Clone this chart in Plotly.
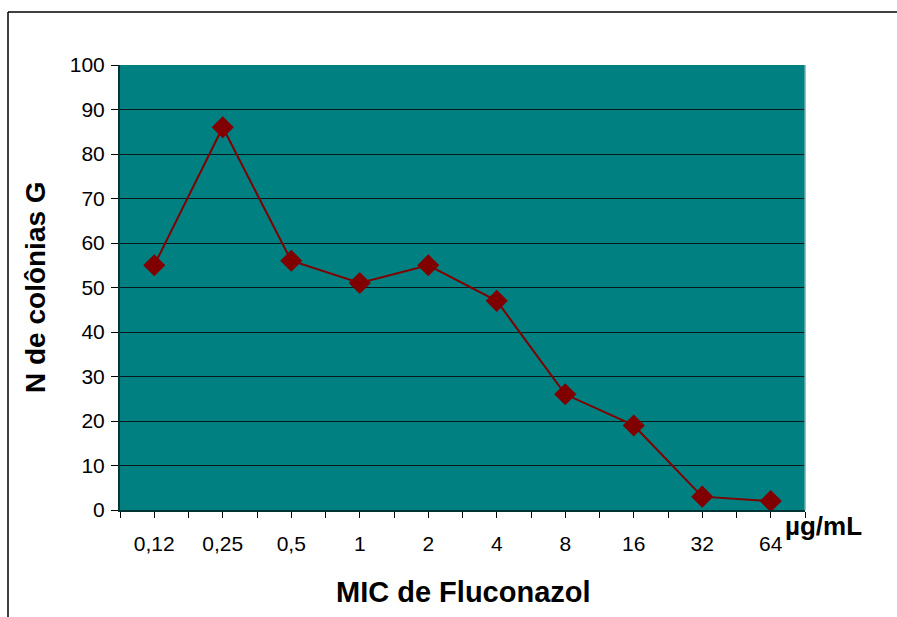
import plotly.graph_objects as go

categories = ["0,12", "0,25", "0,5", "1", "2", "4", "8", "16", "32", "64"]
values = [55, 86, 56, 51, 55, 47, 26, 19, 3, 2]
y_ticks = list(range(0, 101, 10))

x_idx = list(range(len(categories)))

# ticks at category centers and boundaries
tickvals = []
ticktext = []
for i, c in enumerate(categories):
    tickvals.append(i - 0.5)
    ticktext.append("")
    tickvals.append(i)
    ticktext.append(c)
tickvals.append(len(categories) - 0.5)
ticktext.append("")

W, H = 897, 617
L, R, T, B = 120, 92, 65, 107
pw, ph = W - L - R, H - T - B

def px_to_paper_x(px):
    return (px - L) / pw

def px_to_paper_y(py):
    return (H - B - py) / ph

fig = go.Figure()
fig.add_trace(go.Scatter(
    x=x_idx, y=values, mode="lines+markers",
    line=dict(color="#800000", width=2),
    marker=dict(symbol="diamond", size=17, color="#800000"),
    showlegend=False, hoverinfo="skip",
))

fig.update_layout(
    width=W, height=H,
    margin=dict(l=L, r=R, t=T, b=B),
    paper_bgcolor="white",
    plot_bgcolor="#008080",
    font=dict(family="Liberation Sans, Arial, sans-serif", size=21, color="black"),
    xaxis=dict(
        range=[-0.5, len(categories) - 0.5],
        tickmode="array", tickvals=tickvals, ticktext=ticktext,
        ticks="outside", ticklen=6, tickcolor="black", tickwidth=1,
        showgrid=False, zeroline=False,
        showline=True, linecolor="#003333", linewidth=2,
        tickfont=dict(size=21), ticklabelstandoff=8,
    ),
    yaxis=dict(
        range=[0, 100],
        tickmode="array", tickvals=y_ticks,
        ticks="outside", ticklen=7, tickcolor="black", tickwidth=1,
        showgrid=True, gridcolor="#0a1a1a", gridwidth=1,
        zeroline=False,
        showline=True, linecolor="#003333", linewidth=2,
        tickfont=dict(size=21), ticklabelstandoff=2,
    ),
    shapes=[
        # outer frame (top and left)
        dict(type="line", xref="paper", yref="paper",
             x0=px_to_paper_x(8), x1=px_to_paper_x(W + 5),
             y0=px_to_paper_y(12), y1=px_to_paper_y(12),
             line=dict(color="black", width=1.5)),
        dict(type="line", xref="paper", yref="paper",
             x0=px_to_paper_x(8), x1=px_to_paper_x(8),
             y0=px_to_paper_y(12), y1=px_to_paper_y(H + 5),
             line=dict(color="black", width=1.5)),
        # light right edge of the plot area
        dict(type="line", xref="paper", yref="paper",
             x0=1, x1=1, y0=0, y1=1,
             line=dict(color="#66b2b2", width=1.5)),
    ],
    annotations=[
        dict(text="<b>N de colônias G</b>", xref="paper", yref="paper",
             x=px_to_paper_x(35), y=px_to_paper_y(287),
             textangle=-90, showarrow=False, font=dict(size=28),
             xanchor="center", yanchor="middle"),
        dict(text="<b>MIC de Fluconazol</b>", xref="paper", yref="paper",
             x=px_to_paper_x(463), y=px_to_paper_y(592),
             showarrow=False, font=dict(size=29),
             xanchor="center", yanchor="middle"),
        dict(text="<b>µg/mL</b>", xref="paper", yref="paper",
             x=px_to_paper_x(783), y=px_to_paper_y(526),
             showarrow=False, font=dict(size=26),
             xanchor="left", yanchor="middle"),
    ],
)

fig.write_html("out.html")
